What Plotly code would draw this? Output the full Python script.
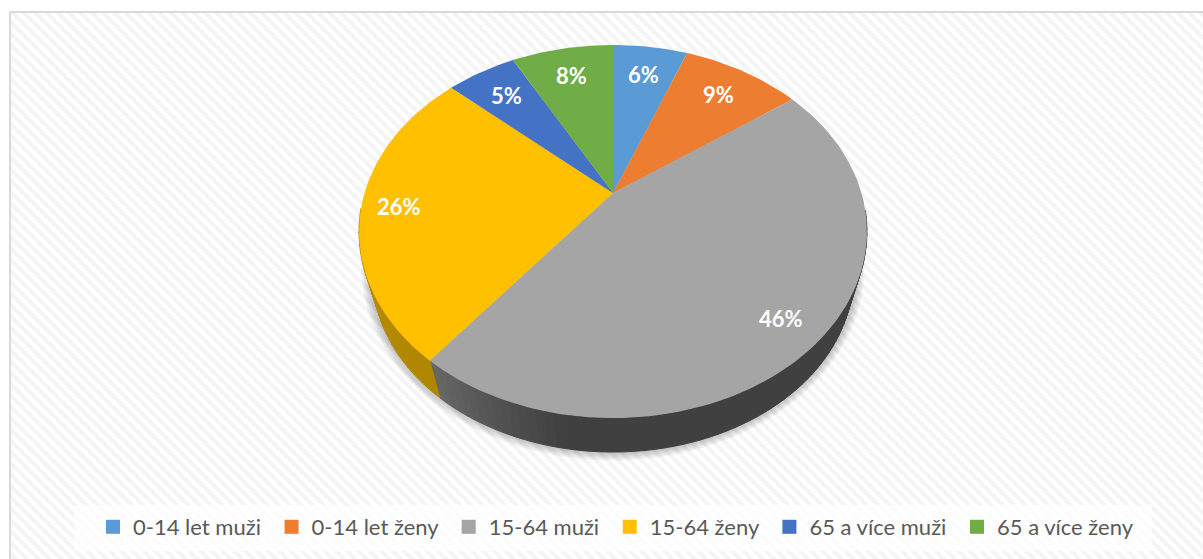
import math
import plotly.graph_objects as go

# ---- data ----
categories = ["0-14 let muži", "0-14 let ženy", "15-64 muži", "15-64 ženy", "65 a více muži", "65 a více ženy"]
shares = [5.8, 9.2, 45.6, 26.1, 5.4, 7.9]
colors = ["#5b9bd5", "#ed7d31", "#a5a5a5", "#ffc000", "#4472c4", "#70ad47"]
wall_left = ["#3f6f9c", "#ad5a23", "#666666", "#c29200", "#2f5597", "#507e32"]
wall_right = ["#3f6f9c", "#ad5a23", "#404040", "#b08600", "#2f5597", "#507e32"]

# ---- geometry of the tilted disc (pixels of the plot area) ----
W, H = 1203, 559
CX, CY = 613, 193      # apex of the pie
A, B, K = 248.5, 178.6, 0.2064
VY, S = 1036, 0.945    # vanishing point and scale of the lower rim


def rim(theta, r=1.0):
    u, v = r * math.sin(theta), r * math.cos(theta)
    d = 1 + K * v
    return CX + A * u / d, CY - B * v / d


def low(p):
    return CX + (p[0] - CX) * S, VY - (VY - p[1]) * S


def mix(c1, c2, t):
    a = [int(c1[i:i + 2], 16) for i in (1, 3, 5)]
    b = [int(c2[i:i + 2], 16) for i in (1, 3, 5)]
    return "#%02x%02x%02x" % tuple(round(a[i] + (b[i] - a[i]) * t) for i in range(3))


fig = go.Figure()

# hatched chart area
fig.add_trace(go.Scatter(x=[10, 1215, 1215, 10, 10], y=[12, 12, 575, 575, 12], mode="lines", fill="toself",
                         line=dict(color="#d9d9d9", width=2), fillcolor="white",
                         fillpattern=dict(shape="\\", fgcolor="#e9e9e9", bgcolor="white", size=8, solidity=0.5),
                         hoverinfo="skip", showlegend=False))

# soft shadow under the disc
for d in range(9, 0, -1):
    xs, ys = [], []
    for i in range(181):
        t = 2 * math.pi * i / 180
        xs.append(613 + (243 + d) * math.sin(t))
        ys.append(268 - (184 + d) * math.cos(t))
    fig.add_trace(go.Scatter(x=xs, y=ys, mode="lines", fill="toself", line=dict(width=0),
                             fillcolor="rgba(0,0,0,0.028)", hoverinfo="skip", showlegend=False))

# walls
start = 0.0
edges = []
for s in shares:
    edges.append((start, start + s))
    start += s
for k, (a, b) in enumerate(edges):
    n = max(2, int((b - a) * 2))
    for j in range(n):
        t0 = 2 * math.pi * (a + (b - a) * j / n) / 100
        t1 = 2 * math.pi * (a + (b - a) * (j + 1) / n) / 100
        if math.cos((t0 + t1) / 2) > -0.1:
            continue
        p0, p1 = rim(t0), rim(t1)
        q0, q1 = low(p0), low(p1)
        f = max(0, (j + 1 - n * 0.83) / (n * 0.17)) if k == 2 else (j + 1) / n
        col = mix(wall_right[k], wall_left[k], f)
        fig.add_trace(go.Scatter(x=[p0[0], p1[0], q1[0], q0[0], p0[0]], y=[p0[1], p1[1], q1[1], q0[1], p0[1]],
                                 mode="lines", fill="toself", fillcolor=col, line=dict(color=col, width=1),
                                 hoverinfo="skip", showlegend=False))

# top face
for k, (a, b) in enumerate(edges):
    n = max(4, int((b - a) * 3))
    xs, ys = [CX], [CY]
    for j in range(n + 1):
        x, y = rim(2 * math.pi * (a + (b - a) * j / n) / 100)
        xs.append(x)
        ys.append(y)
    xs.append(CX)
    ys.append(CY)
    fig.add_trace(go.Scatter(x=xs, y=ys, mode="lines", fill="toself", fillcolor=colors[k],
                             line=dict(width=0, color=colors[k]), name=categories[k],
                             hovertemplate="%{fullData.name}<extra></extra>", showlegend=False))
    mid = 2 * math.pi * (a + b) / 200
    lx, ly = rim(mid, 0.85 if math.cos(mid) < 0 else 0.785)
    fig.add_annotation(x=lx, y=ly, text="<b>%d%%</b>" % round(shares[k]), showarrow=False,
                       font=dict(family="Lato", size=22, color="white"))

# legend entries
for k, name in enumerate(categories):
    fig.add_trace(go.Scatter(x=[None], y=[None], mode="markers", name=name + "\u00a0",
                             marker=dict(symbol="square", size=14, color=colors[k])))

fig.add_shape(type="rect", x0=74, x1=1152, y0=505, y1=551, fillcolor="rgba(255,255,255,0.75)", line=dict(width=0),
              layer="above")

fig.update_layout(
    width=W, height=H, margin=dict(l=0, r=0, t=0, b=0), autosize=False,
    paper_bgcolor="white", plot_bgcolor="white",
    xaxis=dict(range=[0, W], visible=False, fixedrange=True),
    yaxis=dict(range=[H, 0], visible=False, fixedrange=True),
    legend=dict(orientation="h", x=93 / W, xanchor="left", y=1 - 527 / H, yanchor="middle",
                bgcolor="rgba(0,0,0,0)", font=dict(family="Lato", size=22, color="#595959")),
)
fig.write_html("out.html", post_script="document.body.style.margin='0';document.body.style.overflow='hidden';",
               config={"displayModeBar": False})
